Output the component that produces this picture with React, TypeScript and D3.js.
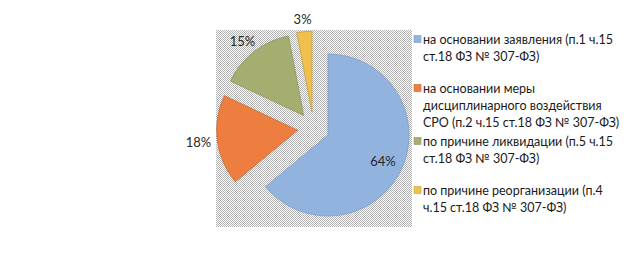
import React from "react";
import * as d3 from "d3";

const categories = [
  ["на основании заявления (п.1 ч.15", "ст.18 ФЗ № 307-ФЗ)"],
  ["на основании меры", "дисциплинарного воздействия", "СРО (п.2 ч.15 ст.18 ФЗ № 307-ФЗ)"],
  ["по причине ликвидации (п.5 ч.15", "ст.18 ФЗ № 307-ФЗ)"],
  ["по причине реорганизации (п.4", "ч.15 ст.18 ФЗ № 307-ФЗ)"],
];
const values = [64, 18, 15, 3];
const valueLabels = ["64%", "18%", "15%", "3%"];
const colors = ["#93B3DF", "#EE7D40", "#A5AE70", "#F1BF4C"];
const strokes = ["#7C9CC8", "#C8683A", "#8C9560", "#C9A040"];

const W = 627;
const H = 257;
const cx = 313.5;
const cy = 128.2;
const R = 81;
const explode = 16;
const FONT = "Lato, Calibri, 'Open Sans', sans-serif";

export default function App() {
  const pie = d3.pie<number>().sort(null).value((d) => d).startAngle(0).endAngle(2 * Math.PI);
  const arcs = pie(values);
  const arcGen = d3.arc<d3.PieArcDatum<number>>().innerRadius(0).outerRadius(R);

  const lineH = 17;
  const minStep = 49;
  const legendX = 414;
  const legendY0 = 39.5;
  const tops: number[] = [];
  let acc = legendY0;
  categories.forEach((lines) => {
    tops.push(acc);
    acc += Math.max(lines.length * lineH + 2, minStep);
  });

  return (
    <svg width={W} height={H} style={{ position: "absolute", left: 0, top: 0, background: "#fff" }}>
      <defs>
        <pattern id="hatch" width={2} height={2} patternUnits="userSpaceOnUse">
          <rect width={2} height={2} fill="#ffffff" />
          <rect x={0} y={0} width={1} height={1} fill="#b0b0b0" />
          <rect x={1} y={1} width={1} height={1} fill="#b0b0b0" />
        </pattern>
      </defs>
      <rect x={216} y={30} width={196} height={197} fill="url(#hatch)" />
      {arcs.map((a, i) => {
        const mid = (a.startAngle + a.endAngle) / 2;
        const dx = Math.sin(mid);
        const dy = -Math.cos(mid);
        const ax = cx + explode * dx;
        const ay = cy + explode * dy;
        return (
          <g key={i} transform={`translate(${ax},${ay})`}>
            <path d={arcGen(a) || ""} fill={colors[i]} stroke={strokes[i]} strokeWidth={0.8} />
          </g>
        );
      })}
      {arcs.map((a, i) => {
        const mid = (a.startAngle + a.endAngle) / 2;
        const dx = Math.sin(mid);
        const dy = -Math.cos(mid);
        const ax = cx + explode * dx;
        const ay = cy + explode * dy;
        let x: number, y: number;
        if (i === 0) {
          x = ax + dx * R * 0.75;
          y = ay + dy * R * 0.75;
        } else {
          const hw = 13;
          const hh = 7;
          const D = R + 6;
          x = ax + dx * D + dx * hw;
          y = ay + dy * D + dy * hh;
        }
        return (
          <text key={i} x={x} y={y} textAnchor="middle" dominantBaseline="central" fontFamily={FONT} fontSize={13} fill="#262626">
            {valueLabels[i]}
          </text>
        );
      })}
      {categories.map((lines, i) => {
        const y0 = tops[i];
        return (
          <g key={i}>
            <rect x={legendX} y={y0 - 4} width={7} height={7} fill={colors[i]} stroke={strokes[i]} strokeWidth={0.6} />
            {lines.map((l, j) => (
              <text key={j} x={legendX + 9} y={y0 + j * lineH} dominantBaseline="central" fontFamily={FONT} fontSize={12.5} fill="#1a1a1a">
                {l}
              </text>
            ))}
          </g>
        );
      })}
    </svg>
  );
}
